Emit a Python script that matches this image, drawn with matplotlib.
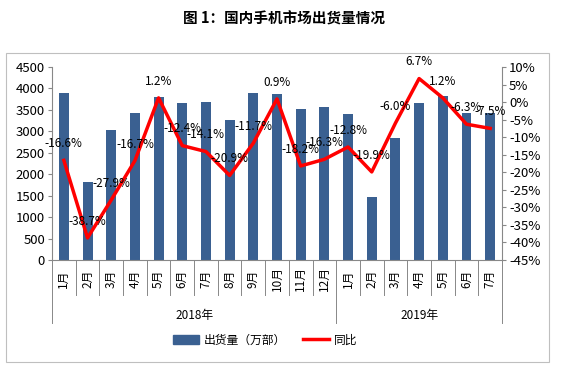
import numpy as np
import matplotlib.pyplot as plt
from matplotlib.patches import Rectangle
from matplotlib.lines import Line2D
from matplotlib.patches import Patch

plt.rcParams['font.family'] = ['Noto Sans CJK SC', 'DejaVu Sans']

months = ['1月', '2月', '3月', '4月', '5月', '6月', '7月', '8月', '9月', '10月', '11月', '12月',
          '1月', '2月', '3月', '4月', '5月', '6月', '7月']
years = ['2018年', '2019年']
year_len = [12, 7]
shipments = [3900, 1810, 3020, 3420, 3790, 3660, 3690, 3260, 3900, 3860, 3530, 3560,
             3410, 1460, 2840, 3650, 3830, 3430, 3420]
yoy = [-16.6, -38.7, -27.9, -16.7, 1.2, -12.4, -14.1, -20.9, -11.7, 0.9, -18.2, -16.3,
       -12.8, -19.9, -6.0, 6.7, 1.2, -6.3, -7.5]

bar_color = '#3A6091'
x = np.arange(len(months))

fig = plt.figure(figsize=(5.68, 3.76), dpi=100)
# outer chart border
fig.patches.append(Rectangle((6 / 568, 1 - 362 / 376), 543 / 568, 309 / 376,
                             transform=fig.transFigure, fill=False, ec='#BFBFBF', lw=0.8))
fig.text(0.5, 1 - 19 / 376, '图 1：国内手机市场出货量情况', ha='center', va='center',
         fontsize=10.5, fontweight='bold')

ax = fig.add_axes([52 / 568, 1 - 260 / 376, 450 / 568, 193 / 376])
ax.bar(x, shipments, width=0.42, color=bar_color, zorder=2)
ax.set_xlim(-0.5, len(months) - 0.5)
ax.set_ylim(0, 4500)
ax.set_yticks(np.arange(0, 4501, 500))
ax.tick_params(axis='y', labelsize=9.5, length=3, pad=2, color='#888888')
for s in ['top', 'right']:
    ax.spines[s].set_visible(False)
ax.spines['left'].set_color('#888888')
ax.spines['bottom'].set_color('#888888')
ax.set_xticks([])

ax2 = ax.twinx()
ax2.plot(x, yoy, color='#FF0000', lw=2.5, zorder=3)
ax2.set_ylim(-45, 10)
ax2.set_yticks(np.arange(-45, 11, 5))
ax2.set_yticklabels([f'{v}%' for v in range(-45, 11, 5)])
ax2.tick_params(axis='y', labelsize=9.5, length=3, pad=2, color='#888888')
for s in ['top', 'left', 'bottom']:
    ax2.spines[s].set_visible(False)
ax2.spines['right'].set_color('#888888')
ax2.set_xticks([])

for xi, v in zip(x, yoy):
    ax2.annotate(f'{v:.1f}%', (xi, v), xytext=(0, 12), textcoords='offset points',
                 ha='center', va='center', fontsize=8.5, zorder=4)

# multi-level category axis
tr = ax.get_xaxis_transform()
bounds = [-0.5]
for n in year_len:
    bounds.append(bounds[-1] + n)
for b in np.arange(-0.5, len(months), 1.0):
    depth = -0.326 if b in bounds else -0.181
    ax.plot([b, b], [0, depth], transform=tr, color='#888888', lw=0.7, clip_on=False)
for xi, m in zip(x, months):
    ax.text(xi, -0.098, m, transform=tr, rotation=90, ha='center', va='center', fontsize=8.5)
for i, yname in enumerate(years):
    ax.text((bounds[i] + bounds[i + 1]) / 2, -0.285, yname, transform=tr,
            ha='center', va='center', fontsize=8.5)

handles = [Patch(color=bar_color), Line2D([], [], color='#FF0000', lw=2.5)]
fig.legend(handles, ['出货量（万部）', '同比'], loc='center', bbox_to_anchor=(265 / 568, 1 - 340 / 376),
           ncol=2, frameon=False, fontsize=8.5, handlelength=2.2, columnspacing=1.5,
           handletextpad=0.4)

fig.savefig('out.png', dpi=100)
